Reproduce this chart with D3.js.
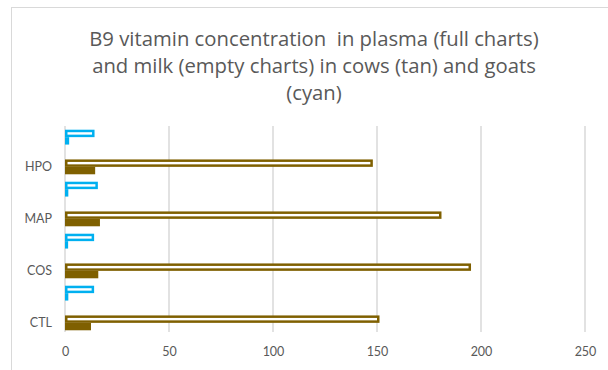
<!DOCTYPE html>
<html>
<head>
<meta charset="utf-8">
<script src="https://cdn.jsdelivr.net/npm/d3@7/dist/d3.min.js"></script>
<style>
  html, body { margin: 0; padding: 0; background: #fff; }
  svg { display: block; font-family: "Lato", "Open Sans", sans-serif; }
</style>
</head>
<body>
<svg id="chart" width="608" height="370"></svg>
<script>
// Categories, top to bottom
const categories = ["HPO", "MAP", "COS", "CTL"];
// Goats (cyan): milk = empty bars, plasma = full bars
const goatMilk   = [13.6, 15.2, 13.4, 13.4];
const goatPlasma = [2.0, 1.6, 1.5, 1.6];
// Cows (tan): milk = empty bars, plasma = full bars
const cowMilk    = [147.4, 180.4, 194.6, 150.6];
const cowPlasma  = [14.5, 16.8, 16.0, 12.5];
const xTicks = [0, 50, 100, 150, 200, 250];
const titleLines = [
  "B9 vitamin concentration  in plasma (full charts)",
  "and milk (empty charts) in cows (tan) and goats",
  "(cyan)"
];

const CYAN = "#00B0F0", TAN = "#7F6000";
const STROKE = 2.5;
const series = [
  { key: "goatMilk",   values: goatMilk,   color: CYAN, empty: true,  slot: 0 },
  { key: "goatPlasma", values: goatPlasma, color: CYAN, empty: false, slot: 1 },
  { key: "cowMilk",    values: cowMilk,    color: TAN,  empty: true,  slot: 4 },
  { key: "cowPlasma",  values: cowPlasma,  color: TAN,  empty: false, slot: 5 }
];

const svg = d3.select("#chart");

// chart frame
svg.append("rect")
  .attr("x", 11.5).attr("y", 7.5).attr("width", 640).attr("height", 400)
  .attr("fill", "none").attr("stroke", "#d9d9d9").attr("stroke-width", 1);

const plot = { left: 65, right: 585, top: 126, bottom: 334 };

const x = d3.scaleLinear().domain([0, 250]).range([plot.left, plot.right]);
const y = d3.scaleBand().domain(categories).range([plot.top, plot.bottom]);
// six slots per category: two goat bars, a gap of two, two cow bars
const slot = d3.scaleBand().domain(d3.range(6)).range([0, y.bandwidth()]).paddingOuter(0.5);

// gridlines
svg.append("g").selectAll("line").data(xTicks.slice(1)).join("line")
  .attr("x1", d => x(d)).attr("x2", d => x(d))
  .attr("y1", plot.top).attr("y2", plot.bottom - 2)
  .attr("stroke", "#d9d9d9").attr("stroke-width", 1.5);

// vertical axis line
svg.append("line")
  .attr("x1", x(0)).attr("x2", x(0))
  .attr("y1", plot.top).attr("y2", plot.bottom - 2)
  .attr("stroke", "#d9d9d9").attr("stroke-width", 1.5);

// bars: empty bars are outlined, inset by half the stroke
series.forEach(s => {
  const inset = s.empty ? STROKE / 2 : 0;
  svg.append("g").selectAll("rect").data(categories).join("rect")
    .attr("x", x(0) + inset)
    .attr("y", c => y(c) + slot(s.slot) + inset)
    .attr("width", (c, i) => x(s.values[i]) - x(0) - inset)
    .attr("height", slot.bandwidth() - 2 * inset)
    .attr("fill", s.empty ? "#fff" : s.color)
    .attr("stroke", s.empty ? s.color : "none")
    .attr("stroke-width", STROKE);
});

// category labels, aligned with the cow bars
svg.append("g").selectAll("text").data(categories).join("text")
  .attr("x", 52)
  .attr("y", c => y(c) + slot(4) + slot.bandwidth())
  .attr("dy", "0.35em")
  .attr("text-anchor", "end")
  .attr("fill", "#595959").attr("font-size", 12.5)
  .text(c => c);

// value axis labels
const xAxis = d3.axisBottom(x).tickValues(xTicks).tickSize(0).tickPadding(0);
const ax = svg.append("g").attr("transform", `translate(0, 352)`).call(xAxis);
ax.select(".domain").remove();
ax.selectAll("text")
  .attr("dy", "0.35em")
  .attr("fill", "#595959")
  .attr("font-size", 12.5)
  .attr("font-family", "Lato, 'Open Sans', sans-serif");

// title
svg.append("g").selectAll("text").data(titleLines).join("text")
  .attr("x", 314)
  .attr("y", (d, i) => 39 + i * 27)
  .attr("dy", "0.35em")
  .attr("text-anchor", "middle")
  .attr("fill", "#595959")
  .attr("font-family", "'Open Sans', Lato, sans-serif")
  .attr("font-size", 20.3)
  .style("white-space", "pre")
  .text(d => d);
</script>
</body>
</html>
